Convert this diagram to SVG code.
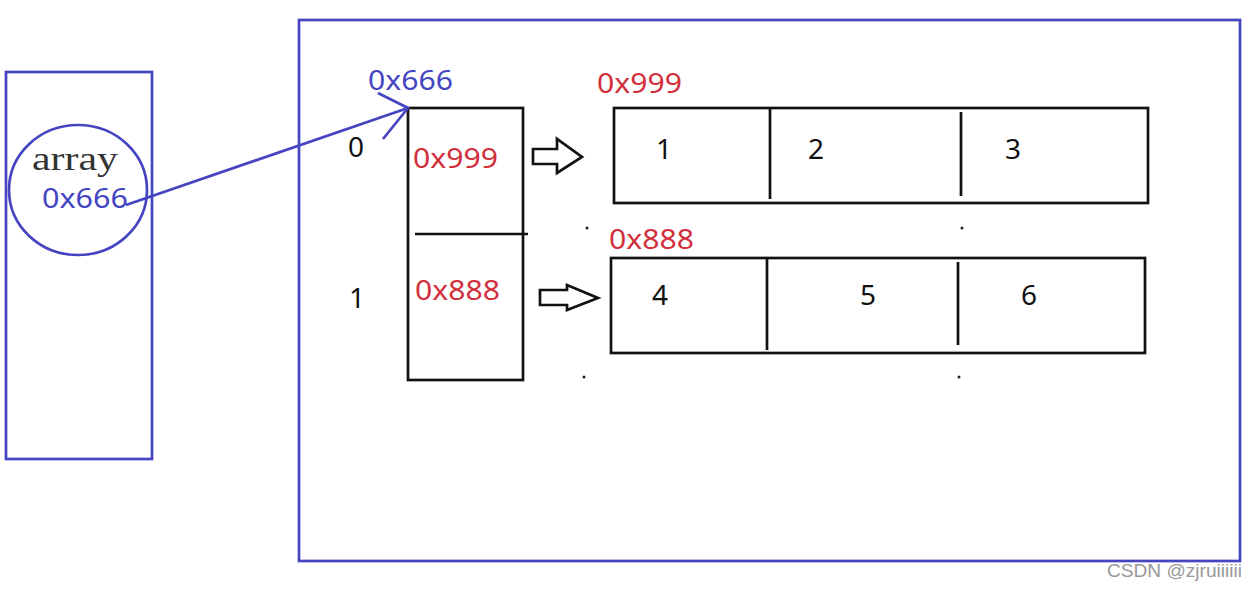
<svg xmlns="http://www.w3.org/2000/svg" width="1257" height="590" viewBox="0 0 1257 590">
<style>
.blue{fill:none;stroke:#4545c2;stroke-width:2.7}
.blk{fill:none;stroke:#111;stroke-width:2.7}
.t{font-family:"Noto Sans","Liberation Sans",sans-serif;font-size:28px}
.tb{fill:#4545c2}
.tr{fill:#d22f3c}
.tk{fill:#111}
.dot{fill:#222}
</style>
<rect width="1257" height="590" fill="#fff"/>
<g id="stack">
<rect class="blue" x="6" y="72" width="146" height="387"/>
<ellipse class="blue" cx="78" cy="190" rx="69" ry="65"/>
<text x="32" y="170" font-family="Liberation Serif,serif" font-size="33" fill="#333" textLength="86" lengthAdjust="spacingAndGlyphs">array</text>
<text class="t tb" x="42" y="208" textLength="86" lengthAdjust="spacingAndGlyphs">0x666</text>
</g>
<g id="heap">
<rect class="blue" x="299" y="20" width="941" height="541"/>
</g>
<g id="index-array">
<text class="t tb" x="368" y="90" textLength="85" lengthAdjust="spacingAndGlyphs">0x666</text>
<rect class="blk" x="408" y="108" width="115" height="272"/>
<line class="blk" x1="415" y1="234" x2="528" y2="234"/>
<text class="t tk" x="348" y="157">0</text>
<text class="t tk" x="349" y="308">1</text>
<text class="t tr" x="413" y="168" textLength="85" lengthAdjust="spacingAndGlyphs">0x999</text>
<text class="t tr" x="415" y="300" textLength="85" lengthAdjust="spacingAndGlyphs">0x888</text>
</g>
<g id="row0">
<text class="t tr" x="597" y="93" textLength="85" lengthAdjust="spacingAndGlyphs">0x999</text>
<rect class="blk" x="614" y="108" width="534" height="95"/>
<line class="blk" x1="770" y1="108" x2="770" y2="199"/>
<line class="blk" x1="961" y1="112" x2="961" y2="196"/>
<text class="t tk" x="656" y="159">1</text>
<text class="t tk" x="808" y="159">2</text>
<text class="t tk" x="1005" y="159">3</text>
</g>
<g id="row1">
<text class="t tr" x="609" y="249" textLength="85" lengthAdjust="spacingAndGlyphs">0x888</text>
<rect class="blk" x="611" y="258" width="534" height="95"/>
<line class="blk" x1="767" y1="258" x2="767" y2="350"/>
<line class="blk" x1="958" y1="262" x2="958" y2="345"/>
<text class="t tk" x="652" y="305">4</text>
<text class="t tk" x="860" y="305">5</text>
<text class="t tk" x="1021" y="305">6</text>
</g>
<g id="dots">
<circle class="dot" cx="587" cy="228" r="1.5"/>
<circle class="dot" cx="962" cy="228" r="1.5"/>
<circle class="dot" cx="584" cy="377" r="1.5"/>
<circle class="dot" cx="959" cy="377" r="1.5"/>
</g>
<g id="connectors">
<polyline class="blue" points="126,205 408,108"/>
<polyline class="blue" points="378,93 408,108 383,139"/>
<path class="blk" stroke-width="2.4" d="M533,149 H557 V139 L582,157 L557,173 V164 H533 Z"/>
<path class="blk" stroke-width="2.4" d="M540,290 H567 V285 L598,298 L567,310 V305 H540 Z"/>
</g>
<text x="1107" y="577" font-family="Liberation Sans,sans-serif" font-size="19" fill="#999" textLength="135" lengthAdjust="spacingAndGlyphs">CSDN @zjruiiiiii</text>
</svg>
